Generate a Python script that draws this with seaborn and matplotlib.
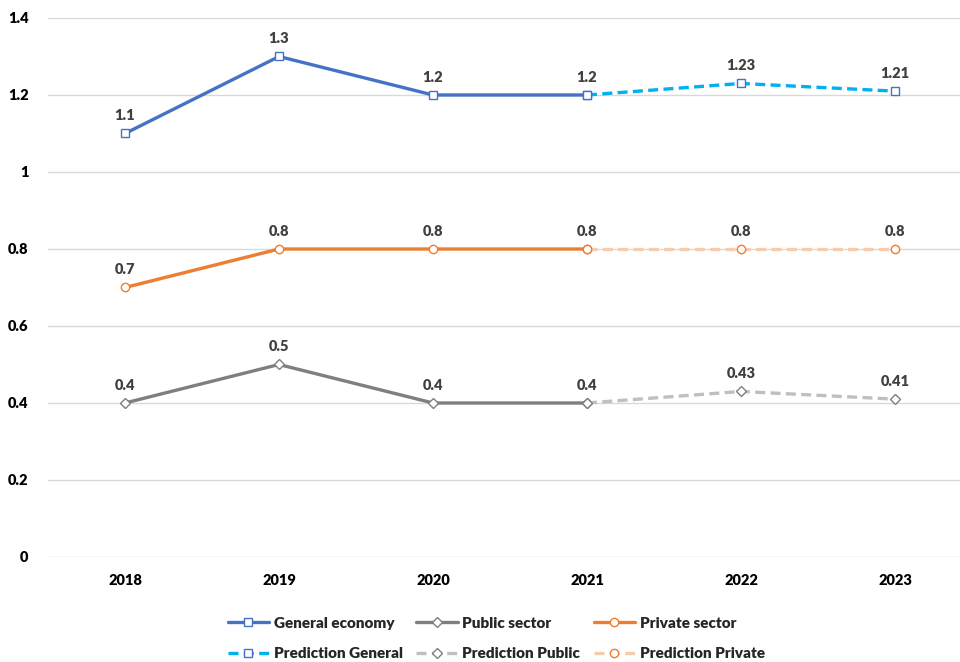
import matplotlib
matplotlib.use("Agg")
import matplotlib.pyplot as plt
import seaborn as sns
import pandas as pd

years = ["2018", "2019", "2020", "2021", "2022", "2023"]
general = [1.1, 1.3, 1.2, 1.2]
public = [0.4, 0.5, 0.4, 0.4]
private = [0.7, 0.8, 0.8, 0.8]
pred_general = [1.2, 1.23, 1.21]
pred_public = [0.4, 0.43, 0.41]
pred_private = [0.8, 0.8, 0.8]
yticks = [0, 0.2, 0.4, 0.6, 0.8, 1, 1.2, 1.4]
ytick_labels = ["0", "0.2", "0.4", "0.6", "0.8", "1", "1.2", "1.4"]

sns.set_theme(style="white")
plt.rcParams["font.family"] = ["Lato", "DejaVu Sans"]
plt.rcParams["font.weight"] = "bold"

fig = plt.figure(figsize=(9.6, 6.62), dpi=100)
ax = fig.add_axes([48 / 960, (662 - 557) / 662, (972 - 48) / 960, (557 - 18) / 662])

obs_x = list(range(len(general)))
pred_x = list(range(3, 3 + len(pred_general)))

series = [
    ("General economy", obs_x, general, "#4472C4", "-", "s", "#4472C4"),
    ("Public sector", obs_x, public, "#7F7F7F", "-", "D", "#7F7F7F"),
    ("Private sector", obs_x, private, "#ED7D31", "-", "o", "#ED7D31"),
    ("Prediction General", pred_x, pred_general, "#00B0F0", (0, (3, 1.6)), "s", "#4472C4"),
    ("Prediction Public", pred_x, pred_public, "#BFBFBF", (0, (3, 1.6)), "D", "#7F7F7F"),
    ("Prediction Private", pred_x, pred_private, "#F8CBAD", (0, (3, 1.6)), "o", "#ED7D31"),
]

handles = {}
for name, xs, ys, col, ls, mk, mec in series:
    df = pd.DataFrame({"x": xs, "y": ys})
    sns.lineplot(data=df, x="x", y="y", ax=ax, color=col, linewidth=2.4,
                 linestyle=ls, marker=mk, markersize=6 if mk != "D" else 5,
                 markerfacecolor="white", markeredgecolor=mec, markeredgewidth=1.0,
                 label=name, legend=False, zorder=3)
    handles[name] = ax.get_lines()[-1]

# data labels
def lab(xs, ys, skip_first=False):
    for i, (x, y) in enumerate(zip(xs, ys)):
        if skip_first and i == 0:
            continue
        ax.annotate(f"{y:g}", (x, y), xytext=(0, 8), textcoords="offset points",
                    ha="center", va="bottom", fontsize=10.5, fontweight="heavy",
                    color="#404040")

lab(obs_x, general)
lab(obs_x, public)
lab(obs_x, private)
lab(pred_x, pred_general, True)
lab(pred_x, pred_public, True)
lab(pred_x, pred_private, True)

ax.set_xlim(-0.5, 5.5)
ax.set_ylim(0, 1.4)
ax.set_xticks(range(len(years)))
ax.set_xticklabels(years, fontsize=10.5, fontweight="heavy", color="black")
ax.set_yticks(yticks)
ax.set_yticklabels(ytick_labels, fontsize=10.5, fontweight="heavy", color="black")
ax.tick_params(axis="x", length=0, pad=12)
ax.tick_params(axis="y", length=0, pad=14)
ax.grid(axis="y", color="#D9D9D9", linewidth=1)
ax.set_axisbelow(True)
for s in ax.spines.values():
    s.set_visible(False)
ax.set_xlabel("")
ax.set_ylabel("")

order = ["General economy", "Prediction General", "Public sector",
         "Prediction Public", "Private sector", "Prediction Private"]
fig.legend([handles[n] for n in order], order, loc="lower center",
           bbox_to_anchor=(0.517, -0.018), ncol=3, frameon=False,
           prop={"weight": "heavy", "size": 11}, handlelength=2.7,
           columnspacing=0.9, labelspacing=1.15, handletextpad=0.3)

fig.savefig("out.png", dpi=100)
